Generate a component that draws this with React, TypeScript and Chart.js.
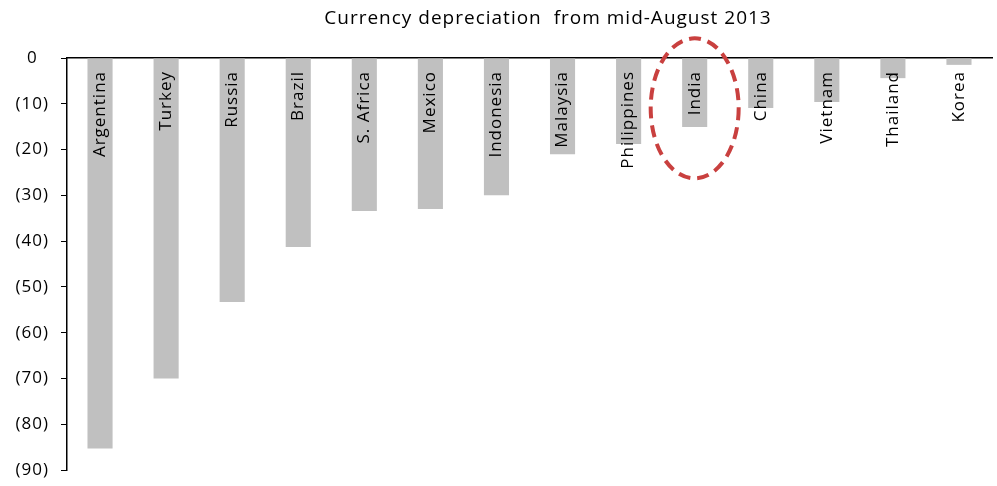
import React, { useEffect, useRef } from "react";
import { Chart, registerables } from "chart.js";

Chart.register(...registerables);

const categories = ["Argentina", "Turkey", "Russia", "Brazil", "S. Africa", "Mexico", "Indonesia", "Malaysia", "Philippines", "India", "China", "Vietnam", "Thailand", "Korea"];
const depreciation = [-85.3, -70.0, -53.3, -41.3, -33.4, -33.0, -30.0, -21.0, -18.8, -15.1, -10.9, -9.6, -4.4, -1.5];
const yTicks = [0, -10, -20, -30, -40, -50, -60, -70, -80, -90];
const titleText = "Currency depreciation  from mid-August 2013";
const highlightIndex = 9;

const FONT = "'Open Sans', sans-serif";

const overlayPlugin = {
  id: "overlay",
  beforeDraw(chart: any) {
    chart.ctx.letterSpacing = "1px";
  },
  afterDatasetsDraw(chart: any) {
    const ctx = chart.ctx;
    const xs = chart.scales.x;
    const ys = chart.scales.y;
    const top = ys.getPixelForValue(0);
    ctx.save();
    ctx.letterSpacing = "1px";
    // category labels inside bars
    ctx.fillStyle = "#000";
    ctx.font = `17px ${FONT}`;
    ctx.textAlign = "right";
    ctx.textBaseline = "middle";
    categories.forEach((c, i) => {
      const x = xs.getPixelForValue(i);
      ctx.save();
      ctx.translate(x, top + 13);
      ctx.rotate(-Math.PI / 2);
      ctx.fillText(c, 0, 0);
      ctx.restore();
    });
    // highlight ellipse
    const cx = xs.getPixelForValue(highlightIndex);
    const cy = ys.getPixelForValue(-11);
    ctx.beginPath();
    ctx.ellipse(cx, cy, 44, 70, 0, 0, Math.PI * 2);
    ctx.strokeStyle = "#C9403F";
    ctx.lineWidth = 4;
    ctx.setLineDash([12, 7]);
    ctx.stroke();
    ctx.setLineDash([]);
    // title
    ctx.font = `19px ${FONT}`;
    ctx.textAlign = "center";
    ctx.textBaseline = "middle";
    ctx.fillText(titleText, 548, 19);
    ctx.restore();
  },
};

export default function App() {
  const ref = useRef<HTMLCanvasElement>(null);
  useEffect(() => {
    document.body.style.margin = "0";
    const chart = new Chart(ref.current!, {
      type: "bar",
      data: {
        labels: categories,
        datasets: [
          {
            data: depreciation,
            backgroundColor: "#C0C0C0",
            barPercentage: 0.76,
            categoryPercentage: 0.5,
          },
        ],
      },
      options: {
        animation: false,
        responsive: false,
        layout: { padding: { top: 58, bottom: 0, right: 5, left: 0 } },
        plugins: { legend: { display: false }, tooltip: { enabled: false }, title: { display: false } },
        scales: {
          x: {
            position: "top",
            grid: { display: false, drawTicks: false },
            border: { display: true, color: "#000", width: 1.5 },
            ticks: { display: false },
            afterFit: (s: any) => { s.height = 0; },
          },
          y: {
            min: -90,
            max: 0,
            afterBuildTicks: (s: any) => { s.ticks = yTicks.map((v) => ({ value: v })); },
            grid: { drawOnChartArea: false, tickLength: 6, color: "#000", tickColor: "#000" },
            border: { display: true, color: "#000", width: 1.5 },
            ticks: {
              crossAlign: "center",
              padding: 14,
              color: "#000",
              font: { family: FONT, size: 17 },
              callback: (v: any) => (v === 0 ? "0" : `(${-v})`),
            },
            afterFit: (s: any) => { s.width = 67; s.paddingBottom = 16; s.paddingTop = 0; },
          },
        },
      },
      plugins: [overlayPlugin],
    });
    return () => chart.destroy();
  }, []);
  return <canvas ref={ref} width={997} height={486} style={{ width: 997, height: 486, display: "block" }} />;
}
